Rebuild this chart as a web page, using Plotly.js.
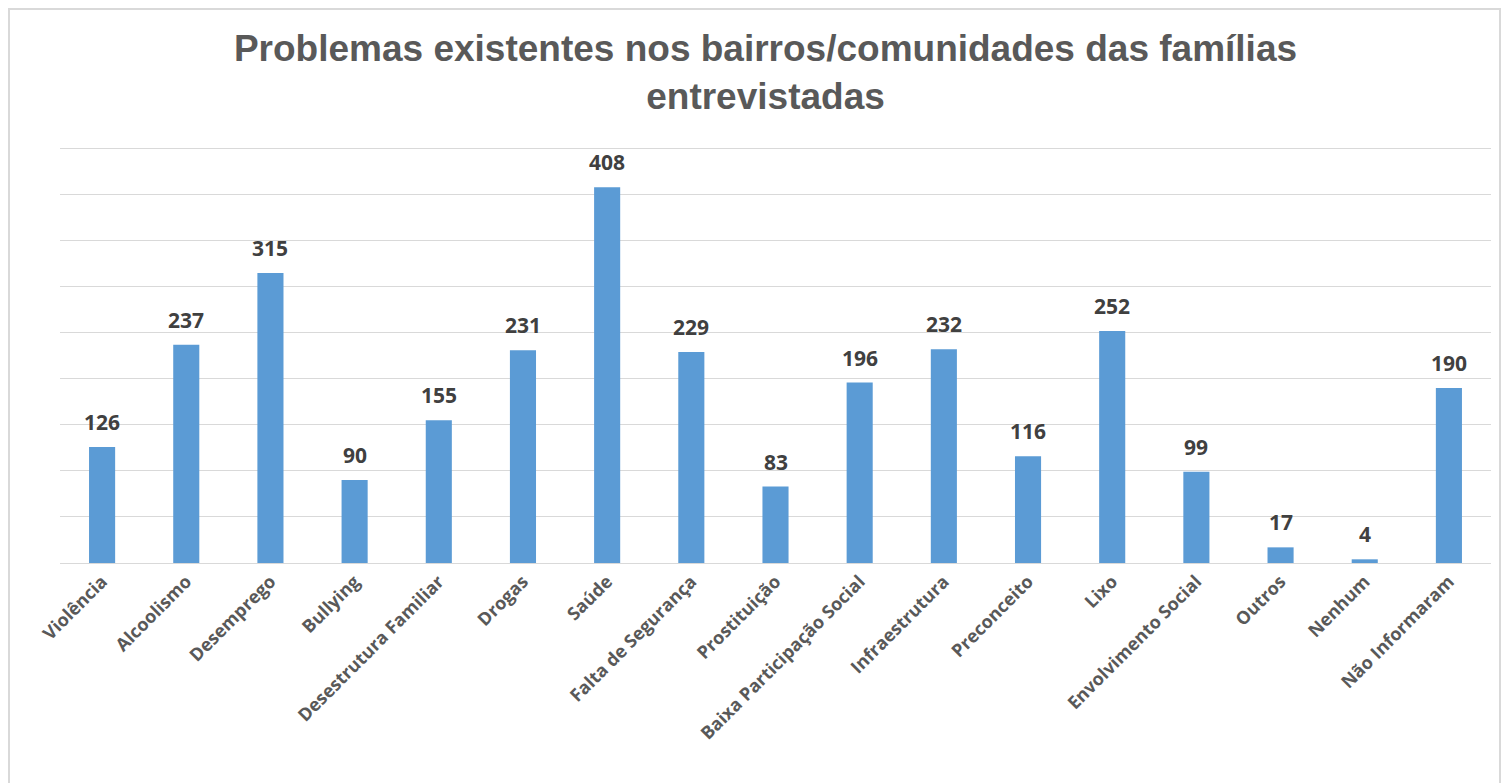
<!DOCTYPE html>
<html>
<head>
<meta charset="utf-8">
<script src="https://cdn.plot.ly/plotly-3.0.1.min.js"></script>
<style>
html,body{margin:0;padding:0;background:#fff;}
#chart{position:absolute;left:0;top:0;width:1501px;height:783px;}
#frame{position:absolute;left:8px;top:8px;width:1489px;height:790px;border:2px solid #d9d9d9;pointer-events:none;}
</style>
</head>
<body>
<div id="chart"></div>
<div id="frame"></div>
<script>
const categories = ["Violência","Alcoolismo","Desemprego","Bullying","Desestrutura Familiar","Drogas","Saúde","Falta de Segurança","Prostituição","Baixa Participação Social","Infraestrutura","Preconceito","Lixo","Envolvimento Social","Outros","Nenhum","Não Informaram"];
const values = [126,237,315,90,155,231,408,229,83,196,232,116,252,99,17,4,190];
const titleText = "Problemas existentes nos bairros/comunidades das famílias<br>entrevistadas";

const trace = {
  type: "bar",
  x: categories,
  y: values,
  marker: {color: "#5b9bd5"},
  hoverinfo: "none"
};

const annotations = categories.map((c, i) => ({
  x: c, y: values[i], xref: "x", yref: "y",
  text: String(values[i]), showarrow: false,
  yanchor: "bottom", yshift: 9,
  font: {family: "Open Sans", size: 21, color: "#404040", weight: "bold"}
}));

const layout = {
  width: 1501, height: 783,
  margin: {l: 60, r: 10, t: 144, b: 220},
  paper_bgcolor: "#fff", plot_bgcolor: "#fff",
  bargap: 0.69,
  title: {text: titleText, x: 0.51, xanchor: "center", y: 0.922, yanchor: "top",
          font: {family: "Liberation Sans", size: 37, color: "#595959", weight: "bold"}},
  xaxis: {tickangle: -45, tickfont: {family: "Open Sans", size: 18, color: "#595959", weight: "bold"},
          showline: true, linecolor: "#d9d9d9", linewidth: 1, ticks: "", showgrid: false},
  yaxis: {range: [0, 455], tickvals: [50,100,150,200,250,300,350,400,450], showticklabels: false,
          gridcolor: "#d9d9d9", gridwidth: 1, zeroline: false, showline: false, ticks: ""},
  annotations: annotations,
  showlegend: false
};

Plotly.newPlot("chart", [trace], layout, {displayModeBar: false, staticPlot: true});
</script>
</body>
</html>
